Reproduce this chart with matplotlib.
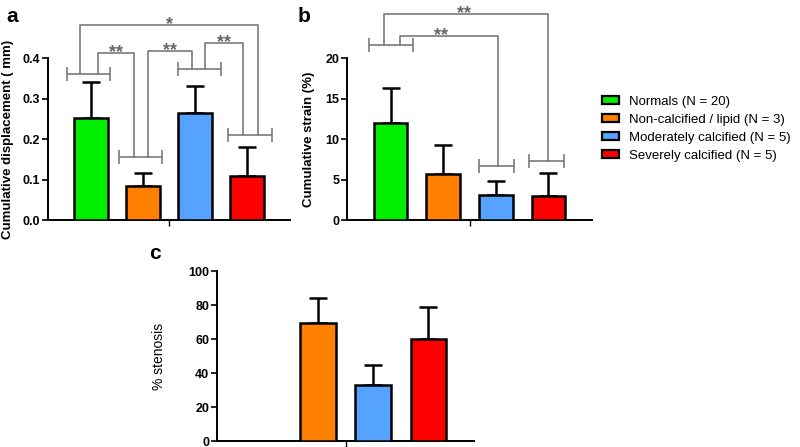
import matplotlib
matplotlib.use("Agg")
import matplotlib.pyplot as plt
import numpy as np
from matplotlib.patches import Patch

plt.rcParams['font.family'] = ['Liberation Sans', 'DejaVu Sans']

groups = ["Normals (N = 20)", "Non-calcified / lipid (N = 3)",
          "Moderately calcified (N = 5)", "Severely calcified (N = 5)"]
colors = ["#00ee00", "#ff8000", "#55a2ff", "#ff0000"]

disp_mean = [0.251, 0.084, 0.264, 0.109]
disp_err = [0.090, 0.032, 0.067, 0.071]

strain_mean = [12.0, 5.7, 3.1, 3.0]
strain_err = [4.3, 3.5, 1.7, 2.8]

sten_mean = [np.nan, 69.4, 33.0, 60.0]
sten_err = [np.nan, 14.6, 11.7, 18.8]

pos = np.arange(1, 5)
GRAY = "#7a7a7a"
STAR = "#666666"

fig = plt.figure(figsize=(8.0, 4.47), dpi=100)

def setup(ax, ylim, yticks, ylabel, ylabel_bold=True, fmt=None):
    ax.set_xlim(0.17, 4.83)
    ax.set_ylim(*ylim)
    ax.set_yticks(yticks)
    if fmt:
        ax.set_yticklabels([fmt.format(v) for v in yticks])
    ax.set_xticks([2.5])
    ax.set_xticklabels([])
    for s in ['top', 'right']:
        ax.spines[s].set_visible(False)
    for s in ['left', 'bottom']:
        ax.spines[s].set_linewidth(1.4)
    ax.tick_params(axis='y', length=4, width=1.2, labelsize=9, pad=1.5)
    ax.tick_params(axis='x', length=4, width=1.0)
    for lab in ax.get_yticklabels():
        lab.set_fontweight('bold')
    ax.set_ylabel(ylabel, fontsize=9.5, fontweight='bold' if ylabel_bold else 'normal')

def bars(ax, mean, err):
    m = np.array(mean, dtype=float)
    e = np.array(err, dtype=float)
    for i in range(4):
        if np.isnan(m[i]):
            continue
        ax.errorbar(pos[i], m[i], yerr=[[0], [e[i]]], fmt='none', ecolor='black',
                    elinewidth=1.8, capsize=6.5, capthick=1.8, zorder=2)
        ax.bar(pos[i], m[i], width=0.64, color=colors[i], edgecolor='black',
               linewidth=1.8, zorder=3)

def bracket(ax, xc, y, half=0.42):
    ax.errorbar(xc, y, xerr=half, fmt='none', ecolor=GRAY, elinewidth=1.2,
                capsize=5, capthick=1.2, clip_on=False, zorder=4)

def link(ax, x1, y1, x2, y2, ytop, label, lx=None):
    ax.plot([x1, x1, x2, x2], [y1, ytop, ytop, y2], color=GRAY, lw=1.2,
            clip_on=False, zorder=4)
    if lx is None:
        lx = (x1 + x2) / 2
    ax.annotate(label, (lx, ytop), xytext=(0, -3), textcoords='offset points',
                ha='center', va='baseline', fontsize=13, fontweight='bold',
                color=STAR, annotation_clip=False)

# ---- panel a ----
axa = fig.add_axes([0.06, 0.5078, 0.3025, 0.3624])
setup(axa, (0, 0.4), [0.0, 0.1, 0.2, 0.3, 0.4], "Cumulative displacement ( mm)",
      fmt="{:.1f}")
bars(axa, disp_mean, disp_err)
bracket(axa, 0.95, 0.36)
bracket(axa, 1.95, 0.156)
bracket(axa, 3.09, 0.372)
bracket(axa, 4.06, 0.21)
link(axa, 0.78, 0.36, 4.22, 0.21, 0.481, "*")
link(axa, 1.14, 0.36, 1.82, 0.156, 0.412, "**")
link(axa, 2.10, 0.156, 2.95, 0.372, 0.417, "**")
link(axa, 3.20, 0.372, 3.93, 0.21, 0.437, "**")
axa.yaxis.set_label_coords(-0.14, 0.5)

# ---- panel b ----
axb = fig.add_axes([0.43375, 0.5078, 0.30625, 0.3624])
setup(axb, (0, 20), [0, 5, 10, 15, 20], "Cumulative strain (%)")
bars(axb, strain_mean, strain_err)
bracket(axb, 1.0, 21.6)
bracket(axb, 3.02, 6.7, half=0.33)
bracket(axb, 3.97, 7.3, half=0.33)
link(axb, 0.865, 21.6, 4.0, 7.3, 25.4, "**", lx=2.4)
link(axb, 1.17, 21.6, 3.04, 6.7, 22.7, "**", lx=1.95)
axb.yaxis.set_label_coords(-0.13, 0.5)

# ---- panel c ----
axc = fig.add_axes([0.27125, 0.0134, 0.32125, 0.3803])
setup(axc, (0, 100), [0, 20, 40, 60, 80, 100], "% stenosis", ylabel_bold=False)
axc.yaxis.label.set_fontsize(10)
bars(axc, sten_mean, sten_err)
axc.yaxis.set_label_coords(-0.2, 0.5)

# panel letters
fig.text(0.008, 0.985, "a", fontsize=15, fontweight='bold', va='top')
fig.text(0.372, 0.985, "b", fontsize=15, fontweight='bold', va='top')
fig.text(0.186, 0.455, "c", fontsize=15, fontweight='bold', va='top')

handles = [Patch(facecolor=c, edgecolor='black', linewidth=1.6) for c in colors]
fig.legend(handles, groups, loc='upper left', bbox_to_anchor=(0.752, 0.785),
           frameon=False, fontsize=9.5, handlelength=1.3, handleheight=0.55,
           handletextpad=0.75, labelspacing=0.45, borderaxespad=0, borderpad=0)

fig.savefig("out.png", dpi=100)
